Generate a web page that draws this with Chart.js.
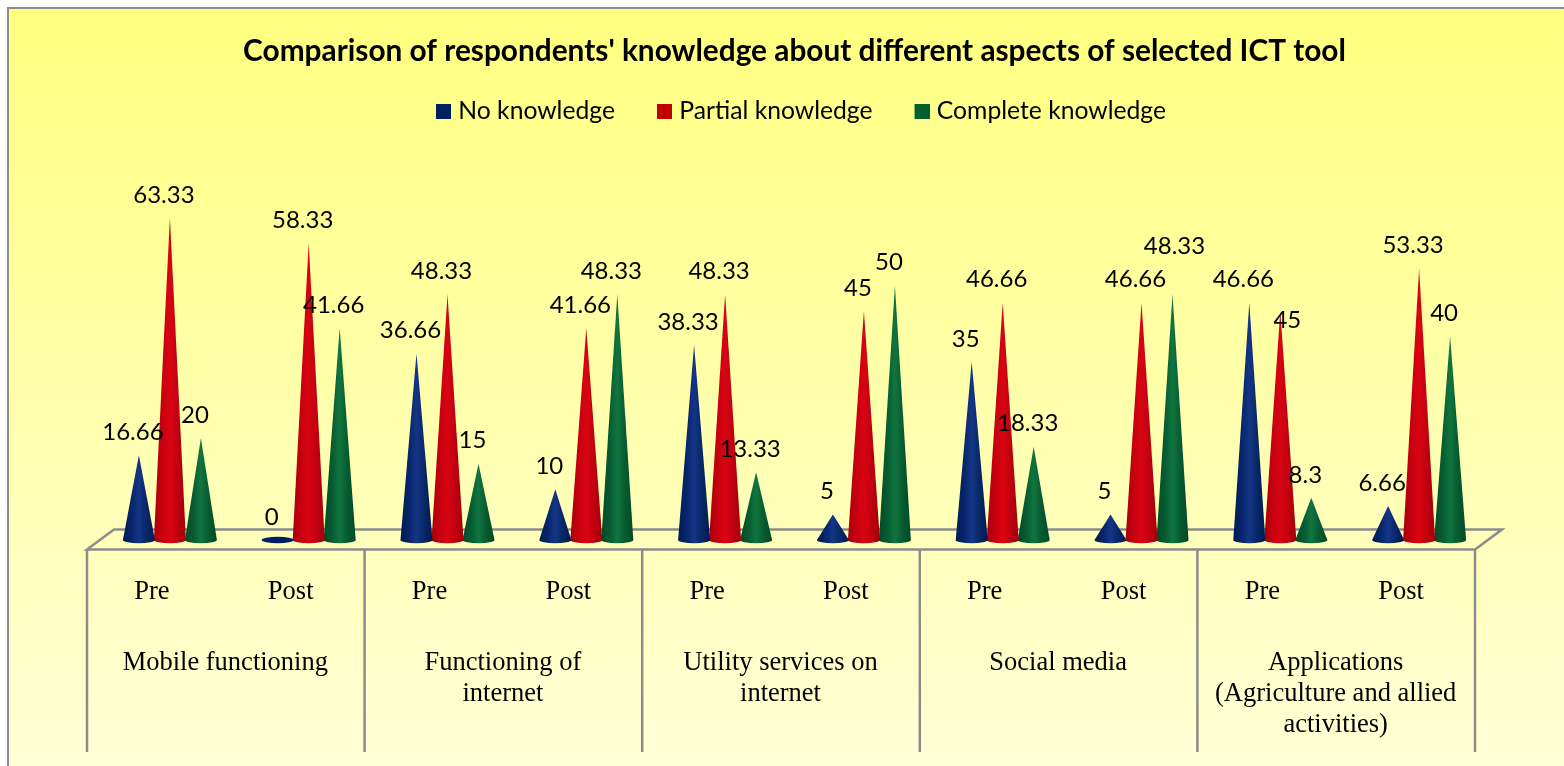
<!DOCTYPE html>
<html><head><meta charset="utf-8">
<style>html,body{margin:0;padding:0;background:#fff}canvas{display:block}</style>
<script src="https://cdn.jsdelivr.net/npm/chart.js@4/dist/chart.umd.js"></script>
</head><body><canvas id="c" width="1564" height="766"></canvas>
<script>
const periods = ["Pre","Post","Pre","Post","Pre","Post","Pre","Post","Pre","Post"];
const aspects = ["Mobile functioning",["Functioning of","internet"],["Utility services on","internet"],"Social media",["Applications","(Agriculture and allied","activities)"]];
const noKnowledge = [16.66,0,36.66,10,38.33,5,35,5,46.66,6.66];
const partialKnowledge = [63.33,58.33,48.33,41.66,48.33,45,46.66,46.66,45,53.33];
const completeKnowledge = [20,41.66,15,48.33,13.33,50,18.33,48.33,8.3,40];
const title = "Comparison of respondents' knowledge about different aspects of selected ICT tool";

const DEPTH_X = 27, DEPTH_Y = 20, SHIFT_X = 13.5, SHIFT_Y = 9.5;
// Two value labels were hand-moved in the original to avoid collisions ("dataset:index": [dx, dy]).
const labelNudges = {"2:7":[8,-25],"1:8":[13,32]};
const shades = {
  "#002060": ["#001B55","#05246A","#143585","#072766","#001A52"],
  "#C00000": ["#A8000C","#C60010","#D80412","#C00010","#A0000A"],
  "#00602F": ["#004A26","#065A30","#10753F","#065A30","#004A26"]
};

// Legend marker: a 15px square placed to the right of a wider transparent canvas, so it sits next to its text.
function marker(color){
  const m = document.createElement("canvas"); m.width = 25; m.height = 15;
  const c = m.getContext("2d"); c.fillStyle = color; c.fillRect(10,0,15,15);
  return m;
}

// Bars are drawn by the library as cones, from each element's own scale-derived geometry.
Chart.BarElement.prototype.draw = function(ctx){
  const {x,y,base} = this.getProps(["x","y","base"]);
  const hw = 16, ry = 3.2, col = this.options.backgroundColor, s = shades[col];
  ctx.save();
  if (base - y < 1) {
    ctx.fillStyle = col;
    ctx.beginPath(); ctx.ellipse(x,base,hw,ry,0,0,Math.PI*2); ctx.fill();
  } else {
    const g = ctx.createLinearGradient(x-hw,0,x+hw,0);
    s.forEach((c,i)=>g.addColorStop(i/4,c));
    ctx.fillStyle = g;
    ctx.beginPath();
    ctx.moveTo(x,y);
    ctx.lineTo(x+hw,base);
    ctx.ellipse(x,base,hw,ry,0,0,Math.PI);
    ctx.closePath();
    ctx.fill();
  }
  ctx.restore();
};

const backdrop = {
  id:"backdrop",
  afterLayout(chart){
    const lg = chart.legend;
    lg.left += 4; lg.right += 4; lg.top -= 8; lg.bottom -= 8;
  },
  beforeDraw(chart){
    const {ctx,width,height} = chart;
    ctx.save();
    ctx.fillStyle="#fff"; ctx.fillRect(0,0,width,height);
    const g = ctx.createLinearGradient(0,8,0,height);
    g.addColorStop(0,"#FFFF7F"); g.addColorStop(1,"#FFFFD6");
    ctx.fillStyle=g; ctx.fillRect(8,8,width,height);
    ctx.strokeStyle="#8C8C8C"; ctx.lineWidth=2;
    ctx.beginPath(); ctx.moveTo(8,height+2); ctx.lineTo(8,8); ctx.lineTo(width+2,8); ctx.stroke();
    ctx.restore();
  },
  beforeDatasetsDraw(chart){
    const {ctx} = chart, xs = chart.scales.x2, y0 = chart.scales.y.getPixelForValue(0);
    const front = y0+SHIFT_Y, back = front-DEPTH_Y, l = xs.left-SHIFT_X, r = xs.right-SHIFT_X;
    ctx.save();
    ctx.strokeStyle="#8C8C8C"; ctx.lineWidth=2.5; ctx.lineJoin="miter";
    ctx.beginPath();
    ctx.moveTo(l,front); ctx.lineTo(l+DEPTH_X,back); ctx.lineTo(r+DEPTH_X,back); ctx.lineTo(r,front); ctx.closePath();
    for (let i=0;i<=aspects.length;i++){
      const vx = l+(r-l)*i/aspects.length;
      ctx.moveTo(vx,front); ctx.lineTo(vx,752);
    }
    ctx.stroke();
    ctx.restore();
  },
  afterDatasetsDraw(chart){
    const {ctx} = chart;
    ctx.save();
    ctx.fillStyle="#000"; ctx.font='24px Lato'; ctx.textAlign="center"; ctx.textBaseline="middle";
    chart.data.datasets.forEach((d,i)=>{
      chart.getDatasetMeta(i).data.forEach((el,j)=>{
        const [dx,dy] = labelNudges[i+":"+j] || [0,0];
        ctx.fillText(String(d.data[j]), el.x-6+dx, el.y-23+dy);
      });
    });
    ctx.restore();
  }
};

new Chart(document.getElementById("c"),{
  type:"bar",
  data:{labels:periods,datasets:[
    {label:"No knowledge",data:noKnowledge,backgroundColor:"#002060",clip:false},
    {label:"Partial knowledge",data:partialKnowledge,backgroundColor:"#C00000",clip:false},
    {label:"Complete knowledge",data:completeKnowledge,backgroundColor:"#00602F",clip:false}
  ]},
  plugins:[backdrop],
  options:{
    responsive:false,animation:false,
    layout:{padding:{left:100.5,right:75.5,top:34,bottom:0}},
    datasets:{bar:{categoryPercentage:0.67,barPercentage:1}},
    plugins:{
      tooltip:{enabled:false},
      title:{display:true,text:title,color:"#000",font:{family:"Lato",size:29.8,weight:"bold"},padding:{top:0,bottom:0}},
      legend:{position:"top",labels:{color:"#000",font:{family:"Lato",size:24.7},boxWidth:15,boxHeight:15,padding:37,usePointStyle:true,
        generateLabels(chart){
          return Chart.defaults.plugins.legend.labels.generateLabels(chart).map((it,i)=>{
            it.pointStyle = marker(chart.data.datasets[i].backgroundColor);
            return it;
          });
        }}}
    },
    scales:{
      y:{display:false,min:0,max:78.35},
      x:{position:"bottom",offset:true,grid:{display:false},border:{display:false},
        afterFit(s){s.height=72;},
        ticks:{autoSkip:false,maxRotation:0,labelOffset:-18,padding:28,color:"#000",font:{family:"Liberation Serif",size:26.5}}},
      x2:{type:"category",labels:aspects,position:"bottom",offset:true,grid:{display:false},border:{display:false},
        afterFit(s){s.height=154;},
        ticks:{autoSkip:false,maxRotation:0,labelOffset:-14,padding:28,color:"#000",font:{family:"Liberation Serif",size:26.5,lineHeight:1.17}}}
    }
  }
});
</script></body></html>
